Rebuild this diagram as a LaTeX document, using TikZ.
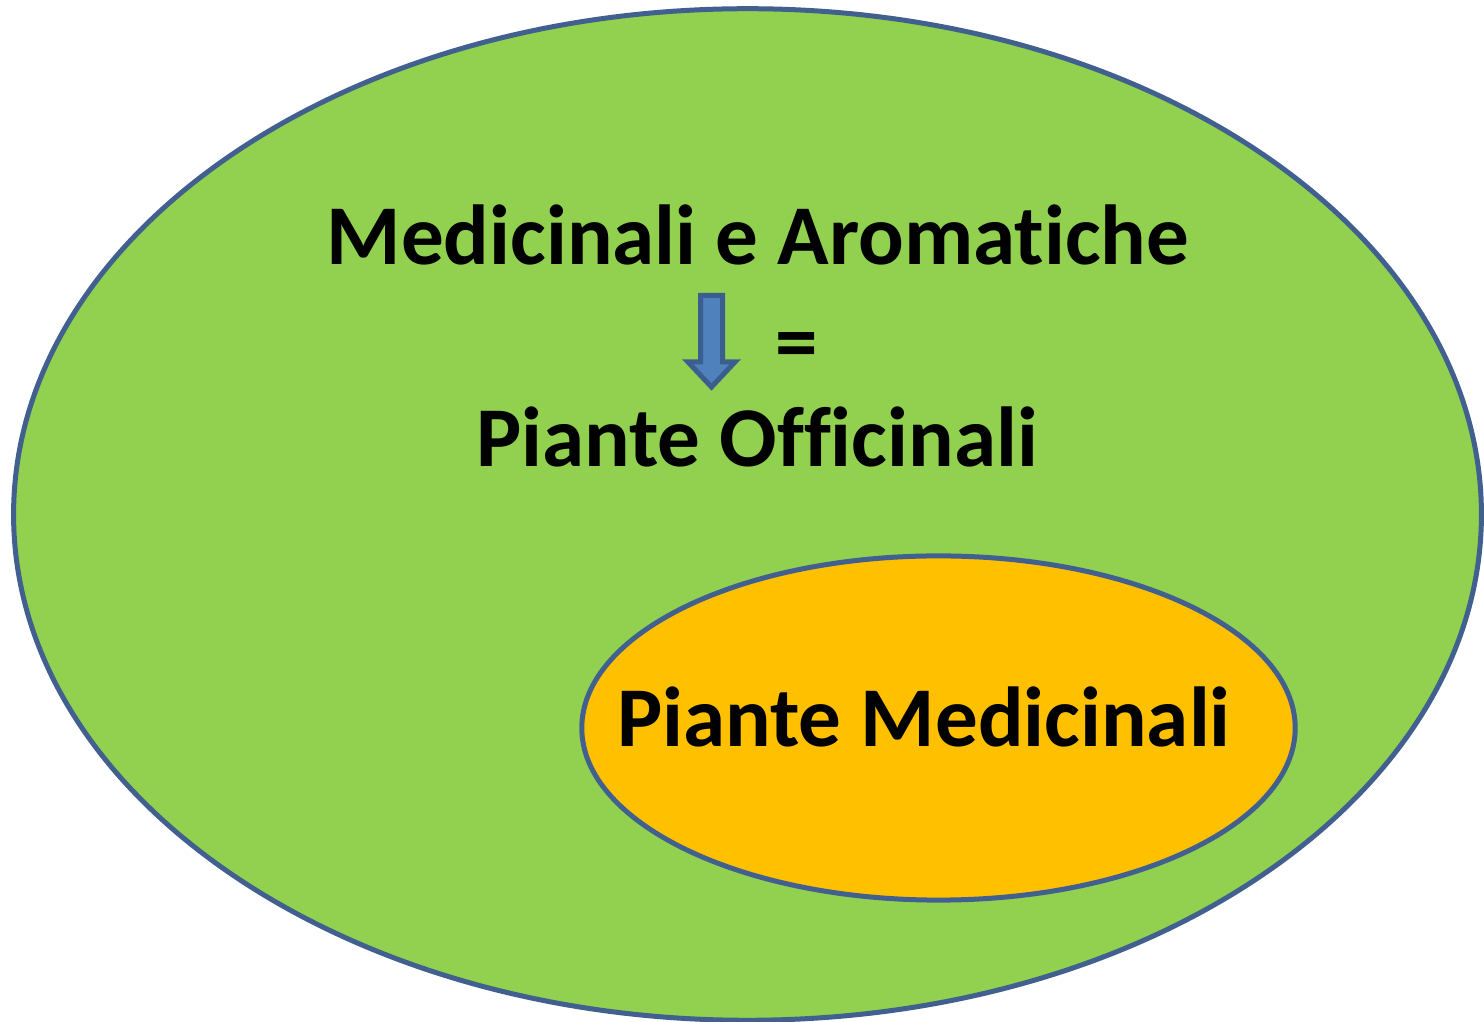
\documentclass[tikz,border=0pt]{standalone}
\usepackage{fontspec}
\setmainfont[Ligatures={NoCommon}]{Carlito}
\usetikzlibrary{shapes.geometric}
\definecolor{grn}{HTML}{92D050}
\definecolor{org}{HTML}{FFC000}
\definecolor{edge}{HTML}{41608F}
\definecolor{arrfill}{HTML}{4F81BD}
\definecolor{arredge}{HTML}{3A5F8F}
\tikzset{
  blob/.style={ellipse, draw=edge, line width=0.05cm, inner sep=0pt},
  lbl/.style={font=\fontsize{24.2}{29}\selectfont\bfseries, inner sep=0pt, anchor=base},
}
\begin{document}
\begin{tikzpicture}[x=0.01cm,y=-0.01cm]
\useasboundingbox (0,0) rectangle (1484,1022);
\node[blob, fill=grn, minimum width=14.67cm, minimum height=10.11cm] (outer) at (747.5,514.5) {};
\node[blob, fill=org, minimum width=7.13cm, minimum height=3.44cm] (inner) at (938.5,728) {};
\node[lbl] (t1) at (758,265) {Medicinali e Aromatiche};
\node[lbl] (t2) at (757,467) {Piante Officinali};
\node[lbl] (t3) at (924,747) {Piante Medicinali};
\node[lbl] (eq) at (797,371) {=};
\draw[fill=arrfill, draw=arredge, line width=0.05cm, line join=miter]
  (700.5,295.5) -- (722.5,295.5) -- (722.5,362) -- (735,362) -- (711.5,387)
  -- (688,362) -- (700.5,362) -- cycle;
\end{tikzpicture}
\end{document}
